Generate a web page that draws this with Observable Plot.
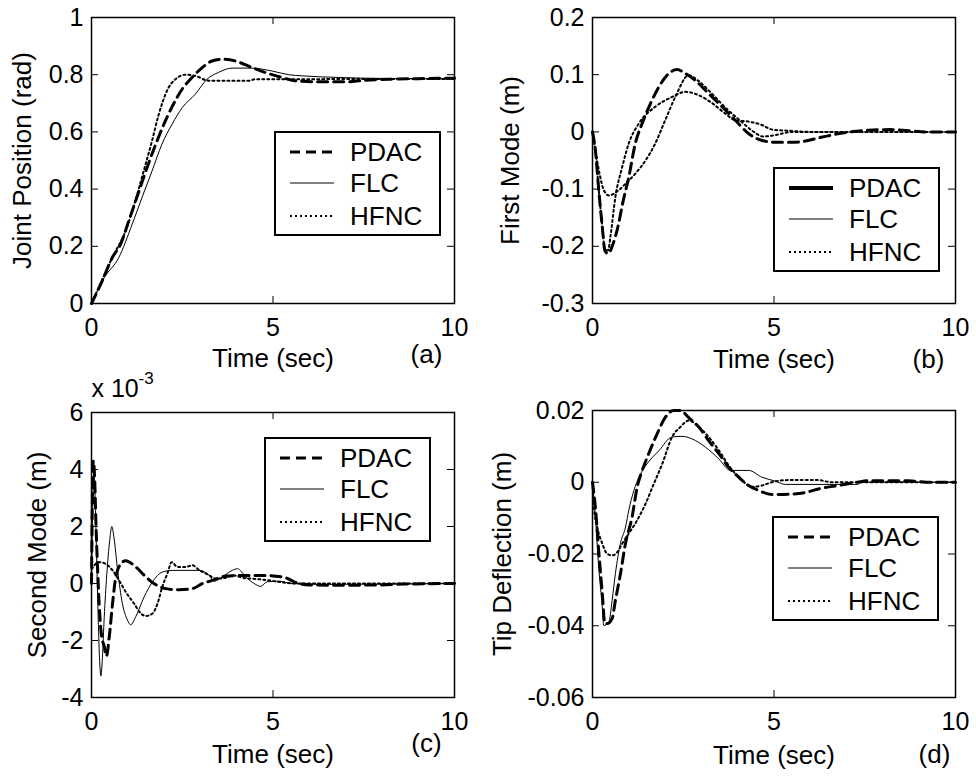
<!DOCTYPE html>
<html><head><meta charset="utf-8">
<script src="https://cdn.jsdelivr.net/npm/d3@7"></script>
<script src="https://cdn.jsdelivr.net/npm/@observablehq/plot@0.6"></script>
<style>
body{margin:0;background:#fff}
#root{position:relative;width:976px;height:777px;background:#fff;overflow:hidden}
</style></head><body><div id="root"></div>
<script>
// ---------- data ----------
const seriesNames = ["PDAC", "FLC", "HFNC"];
const xTicks = [0, 5, 10];
const xLabel = "Time (sec)";

// (a) Joint Position (rad)
const yTicksA = [0, 0.2, 0.4, 0.6, 0.8, 1];
const a_PDAC = [[0,0],[0.3,0.08],[0.57,0.16],[0.8,0.207],[1.03,0.29],[1.3,0.39],[1.53,0.475],[1.81,0.57],[2.04,0.64],[2.27,0.70],[2.5,0.75],[2.77,0.79],[3.05,0.825],[3.32,0.848],[3.6,0.854],[3.96,0.848],[4.42,0.825],[4.88,0.804],[5.25,0.79],[5.6,0.779],[6.2,0.775],[7.0,0.775],[7.5,0.78],[8.2,0.784],[9,0.786],[10,0.788]];
const a_FLC = [[0,0],[0.35,0.09],[0.75,0.16],[1.12,0.277],[1.39,0.37],[1.67,0.464],[1.94,0.557],[2.22,0.627],[2.5,0.685],[2.86,0.732],[3.18,0.784],[3.5,0.808],[3.87,0.823],[4.42,0.823],[4.97,0.813],[5.43,0.80],[5.8,0.796],[6.9,0.79],[8,0.787],[10,0.786]];
const a_HFNC = [[0,0],[0.3,0.085],[0.57,0.16],[0.94,0.254],[1.21,0.36],[1.44,0.464],[1.67,0.57],[1.85,0.66],[2.08,0.744],[2.31,0.784],[2.59,0.80],[2.86,0.796],[3.23,0.779],[4.33,0.779],[4.51,0.784],[10,0.785]];

// (b) First Mode (m)
const yTicksB = [-0.3, -0.2, -0.1, 0, 0.1, 0.2];
const b_PDAC = [[0,0],[0.08,-0.032],[0.17,-0.10],[0.27,-0.166],[0.34,-0.207],[0.43,-0.213],[0.57,-0.195],[0.7,-0.166],[0.83,-0.125],[1.0,-0.079],[1.18,-0.02],[1.37,0.015],[1.6,0.05],[1.83,0.079],[2.1,0.102],[2.33,0.109],[2.56,0.102],[2.83,0.09],[3.2,0.067],[3.57,0.044],[3.94,0.02],[4.3,-0.003],[4.67,-0.015],[5.03,-0.018],[5.6,-0.018],[6.3,-0.0095],[6.8,-0.003],[7.6,0.003],[8.2,0.004],[8.7,0.002],[9.2,0],[10,0]];
const b_FLC = [[0,0],[0.08,-0.032],[0.17,-0.1],[0.27,-0.166],[0.34,-0.204],[0.43,-0.207],[0.5,-0.18],[0.63,-0.114],[0.82,-0.061],[1.0,-0.02],[1.28,0.015],[1.73,0.044],[2.19,0.061],[2.56,0.07],[2.93,0.064],[3.3,0.05],[3.66,0.032],[3.94,0.02],[4.3,0.018],[4.67,0.012],[4.95,0.004],[5.4,0.002],[6,0],[10,0]];
const b_HFNC = [[0,0],[0.1,-0.04],[0.2,-0.075],[0.3,-0.1],[0.45,-0.111],[0.72,-0.102],[0.95,-0.088],[1.18,-0.073],[1.46,-0.05],[1.73,-0.02],[2.0,0.02],[2.28,0.061],[2.65,0.099],[2.9,0.09],[3.3,0.066],[3.7,0.04],[4.1,0.018],[4.4,0.002],[4.7,-0.008],[5.0,-0.006],[5.5,0],[10,0]];

// (c) Second Mode (m), values in units of 10^-3
const yTicksC = [-4, -2, 0, 2, 4, 6];
const c_PDAC = [[0,0],[0.02,2.5],[0.05,4.3],[0.09,3.6],[0.12,2.2],[0.17,0.46],[0.21,-0.7],[0.28,-1.86],[0.35,-2.2],[0.41,-2.55],[0.49,-1.86],[0.58,-0.7],[0.67,0.23],[0.81,0.69],[0.94,0.8],[1.22,0.58],[1.5,0.23],[1.72,0.0],[2.05,-0.18],[2.41,-0.22],[2.78,-0.18],[3.06,0.0],[3.33,0.11],[3.7,0.26],[4.06,0.28],[4.8,0.28],[5.35,0.2],[5.6,0.05],[6.0,-0.05],[7,-0.06],[8,-0.05],[8.6,-0.02],[10,0]];
const c_FLC = [[0,0],[0.03,2.5],[0.07,3.9],[0.1,3.0],[0.14,1.0],[0.18,-1.0],[0.22,-2.6],[0.26,-3.25],[0.3,-2.6],[0.35,-1.2],[0.42,0.3],[0.5,1.5],[0.56,2.0],[0.62,1.6],[0.72,0.46],[0.85,-0.7],[0.99,-1.28],[1.08,-1.45],[1.22,-1.16],[1.45,-0.47],[1.68,0.06],[1.95,0.4],[2.23,0.46],[2.96,0.46],[3.24,0.29],[3.38,0.08],[3.6,0.23],[3.88,0.46],[4.02,0.52],[4.25,0.23],[4.48,0.0],[4.66,-0.1],[4.84,0.06],[5.17,0.08],[5.5,0],[6.5,-0.03],[8,-0.02],[10,0]];
const c_HFNC = [[0,0.5],[0.21,0.75],[0.39,0.69],[0.58,0.46],[0.76,0.11],[0.94,-0.29],[1.17,-0.7],[1.36,-1.05],[1.5,-1.14],[1.68,-1.05],[1.82,-0.7],[1.95,-0.12],[2.09,0.35],[2.21,0.75],[2.37,0.58],[2.6,0.58],[2.78,0.64],[2.96,0.48],[3.24,0.29],[3.42,0.17],[3.7,0.2],[3.88,0.29],[4.16,0.2],[4.43,0.17],[4.7,0.14],[5.2,0.05],[5.6,0],[10,0]];

// (d) Tip Deflection (m)
const yTicksD = [-0.06, -0.04, -0.02, 0, 0.02];
const d_PDAC = [[0,0],[0.08,-0.007],[0.17,-0.019],[0.27,-0.031],[0.34,-0.0394],[0.4,-0.0394],[0.54,-0.038],[0.63,-0.033],[0.77,-0.0255],[0.91,-0.017],[1.09,-0.0097],[1.23,-0.0014],[1.37,0.0033],[1.55,0.008],[1.78,0.0135],[2.0,0.018],[2.24,0.02],[2.42,0.02],[2.65,0.018],[2.93,0.0154],[3.2,0.0116],[3.48,0.008],[3.75,0.0042],[4.03,0.0014],[4.3,-0.0009],[4.58,-0.0023],[4.94,-0.0034],[5.45,-0.0033],[5.8,-0.003],[6.25,-0.0018],[6.7,-0.001],[7.3,0],[7.6,0.0004],[8.7,0.0004],[9.3,0],[10,0]];
const d_FLC = [[0,0],[0.08,-0.0097],[0.17,-0.0236],[0.27,-0.0348],[0.31,-0.0399],[0.45,-0.039],[0.54,-0.033],[0.63,-0.0255],[0.77,-0.017],[0.91,-0.0125],[1.0,-0.0078],[1.14,-0.0023],[1.28,0.0014],[1.5,0.0051],[1.83,0.0088],[2.19,0.0126],[2.47,0.0128],[2.74,0.0121],[3.11,0.0098],[3.48,0.0065],[3.8,0.0033],[4.3,0.0033],[4.67,0.0014],[5.04,0.0003],[5.31,-0.0006],[7.3,-0.0006],[7.4,0],[10,0]];
const d_HFNC = [[0,0],[0.04,-0.007],[0.13,-0.0125],[0.27,-0.0171],[0.4,-0.0199],[0.54,-0.0204],[0.68,-0.0195],[0.82,-0.0171],[1.0,-0.0143],[1.23,-0.0106],[1.46,-0.006],[1.69,-0.0004],[1.92,0.0051],[2.19,0.0126],[2.42,0.0154],[2.65,0.0172],[2.93,0.0154],[3.2,0.0126],[3.48,0.0089],[3.75,0.0047],[4.12,0.0005],[4.39,-0.0013],[4.67,-0.0009],[4.94,0],[5.4,0.0006],[6.2,0.0006],[6.6,0],[10,0]];

// ---------- styles ----------
const FONT = "'Liberation Sans', Arial, Helvetica, sans-serif";
const sty = {
  PDAC: {stroke: "black", strokeWidth: 3, strokeDasharray: "10,6"},
  FLC: {stroke: "black", strokeWidth: 1},
  HFNC: {stroke: "black", strokeWidth: 2, strokeDasharray: "2,3"},
  dotted: {stroke: "black", strokeWidth: 2, strokeDasharray: "2,3"}
};
const root = document.getElementById("root");

function legend(x, y, rows) {
  const svg = d3.create("svg").attr("width", 168).attr("height", 106)
    .style("position", "absolute").style("left", x + "px").style("top", y + "px");
  svg.append("rect").attr("x", 1).attr("y", 1).attr("width", 165).attr("height", 103)
    .attr("fill", "white").attr("stroke", "black").attr("stroke-width", 2);
  const ys = [21, 52, 85];
  rows.forEach((r, i) => {
    svg.append("line").attr("x1", 16).attr("x2", 60).attr("y1", ys[i]).attr("y2", ys[i])
      .attr("stroke", r.stroke).attr("stroke-width", r.strokeWidth)
      .attr("stroke-dasharray", r.strokeDasharray || null);
    svg.append("text").attr("x", 76).attr("y", ys[i]).attr("dy", "0.35em")
      .attr("font-family", FONT).attr("font-size", 26).attr("fill", "black").text(r.name);
  });
  root.append(svg.node());
}

function panel(cfg) {
  const W = cfg.width - cfg.ml - cfg.mr, H = cfg.height - cfg.mt - cfg.mb;
  const marks = [];
  cfg.series.forEach(s => marks.push(Plot.line(s.data, {x: d => d[0], y: d => d[1], curve: "monotone-x", ...s.style})));
  marks.push(Plot.frame({stroke: "black", strokeWidth: 1.5}));
  marks.push(Plot.tickX(xTicks, {x: d => d, insetTop: H - 7, stroke: "black"}));
  marks.push(Plot.tickX(xTicks, {x: d => d, insetBottom: H - 7, stroke: "black"}));
  marks.push(Plot.tickY(cfg.yTicks, {y: d => d, insetRight: W - 7, stroke: "black"}));
  marks.push(Plot.tickY(cfg.yTicks, {y: d => d, insetLeft: W - 7, stroke: "black"}));
  marks.push(Plot.axisX({ticks: xTicks, tickSize: 0, tickPadding: 15, tickFormat: d => String(d), label: null, fontSize: 25}));
  marks.push(Plot.axisY({ticks: cfg.yTicks, tickSize: 0, tickPadding: 8, tickFormat: d => String(d), label: null, fontSize: 25}));
  marks.push(Plot.text([xLabel], {frameAnchor: "bottom", textAnchor: "middle", dy: cfg.xlDy, lineAnchor: "bottom", fontSize: 26}));
  marks.push(Plot.text([cfg.ylabel], {frameAnchor: "left", textAnchor: "middle", rotate: -90, dx: cfg.ylDx, lineAnchor: "middle", fontSize: 26}));
  marks.push(Plot.text([cfg.tag], {frameAnchor: "bottom-right", textAnchor: "middle", dx: cfg.tagDx, dy: cfg.tagDy, lineAnchor: "bottom", fontSize: 26}));
  if (cfg.extra) cfg.extra.forEach(m => marks.push(m));
  const svg = Plot.plot({
    width: cfg.width, height: cfg.height,
    marginLeft: cfg.ml, marginRight: cfg.mr, marginTop: cfg.mt, marginBottom: cfg.mb,
    x: {domain: [0, 10]}, y: {domain: cfg.yDomain},
    style: {fontFamily: FONT, fontSize: "25px", background: "transparent", color: "black", overflow: "visible"},
    marks
  });
  svg.style.position = "absolute";
  svg.style.left = cfg.left + "px";
  svg.style.top = cfg.top + "px";
  root.append(svg);
}

panel({left: 0, top: 0, width: 488, height: 388, ml: 91, mr: 34, mt: 17, mb: 85,
  yDomain: [0, 1], yTicks: yTicksA, ylabel: "Joint Position (rad)", ylDx: -69, xlDy: 63,
  tag: "(a)", tagDx: -28, tagDy: 59,
  series: [{data: a_PDAC, style: sty.PDAC}, {data: a_FLC, style: sty.FLC}, {data: a_HFNC, style: sty.HFNC}]});

panel({left: 488, top: 0, width: 488, height: 388, ml: 104, mr: 21, mt: 17, mb: 85,
  yDomain: [-0.3, 0.2], yTicks: yTicksB, ylabel: "First Mode (m)", ylDx: -82, xlDy: 64,
  tag: "(b)", tagDx: -27, tagDy: 64,
  series: [{data: b_FLC, style: sty.dotted}, {data: b_HFNC, style: sty.HFNC}, {data: b_PDAC, style: sty.PDAC}]});

panel({left: 0, top: 388, width: 488, height: 389, ml: 91, mr: 34, mt: 24, mb: 80,
  yDomain: [-4, 6], yTicks: yTicksC, ylabel: "Second Mode (m)", ylDx: -54, xlDy: 65,
  tag: "(c)", tagDx: -28, tagDy: 54,
  series: [{data: c_PDAC, style: sty.PDAC}, {data: c_FLC, style: sty.FLC}, {data: c_HFNC, style: sty.HFNC}],
  extra: [
    Plot.text(["x 10"], {frameAnchor: "top-left", textAnchor: "start", lineAnchor: "bottom", dy: -16, fontSize: 25}),
    Plot.text(["-3"], {frameAnchor: "top-left", textAnchor: "start", lineAnchor: "bottom", dx: 47, dy: -29, fontSize: 17})
  ]});

panel({left: 488, top: 388, width: 488, height: 389, ml: 104, mr: 21, mt: 22, mb: 80,
  yDomain: [-0.06, 0.02], yTicks: yTicksD, ylabel: "Tip Deflection (m)", ylDx: -90, xlDy: 66,
  tag: "(d)", tagDx: -21, tagDy: 65,
  series: [{data: d_PDAC, style: sty.PDAC}, {data: d_FLC, style: sty.FLC}, {data: d_HFNC, style: sty.HFNC}]});

const rowsStd = seriesNames.map(n => ({name: n, ...sty[n]}));
const rowsB = [
  {name: "PDAC", stroke: "black", strokeWidth: 4},
  {name: "FLC", stroke: "#555", strokeWidth: 1.5},
  {name: "HFNC", ...sty.HFNC}
];
legend(274, 131, rowsStd);
legend(773, 167, rowsB);
legend(264, 437, rowsStd);
legend(772, 516, rowsStd);
</script></body></html>
